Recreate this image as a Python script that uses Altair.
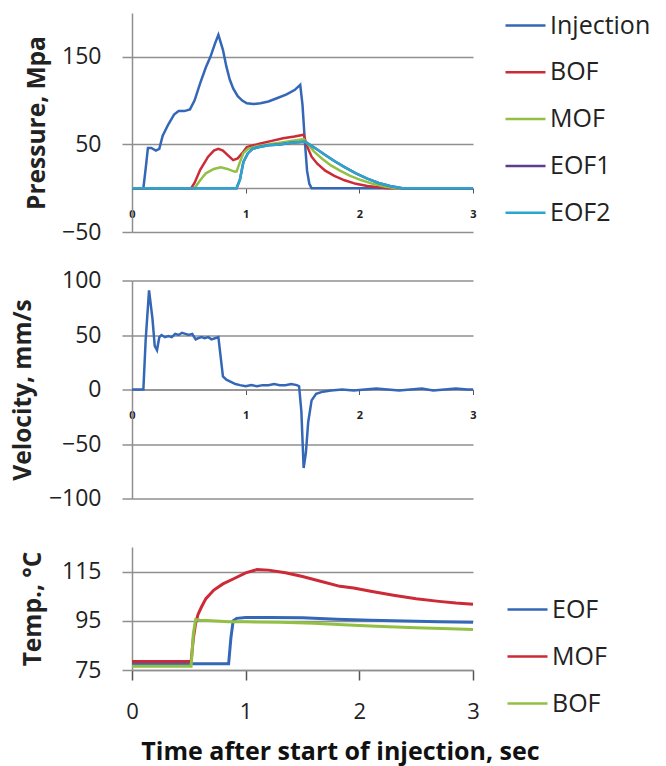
import altair as alt
import pandas as pd

# ---------------- data ----------------
series_p = ["Injection", "BOF", "MOF", "EOF1", "EOF2"]
colors_p = ["#3567B7", "#CC2A36", "#92C045", "#5E3C8F", "#2BA5CF"]

inj_t = [0, 0.10, 0.12, 0.14, 0.17, 0.21, 0.24, 0.27, 0.32, 0.37, 0.41, 0.46, 0.51, 0.55, 0.60, 0.65,
         0.69, 0.73, 0.76, 0.80, 0.83, 0.86, 0.89, 0.93, 0.97, 1.01, 1.07, 1.13, 1.20, 1.28, 1.36, 1.43,
         1.48, 1.50, 1.52, 1.54, 1.56, 1.58, 2.0, 2.5, 3.0]
inj_p = [0, 0, 22, 46, 46, 43, 45, 60, 73, 84, 88, 88, 90, 100, 120, 138,
         150, 165, 175, 158, 139, 124, 114, 105, 100, 97, 96, 97, 99, 103, 107, 112,
         118, 95, 55, 20, 5, 0, 0, 0, 0]

bof_t = [0, 0.52, 0.55, 0.60, 0.67, 0.72, 0.76, 0.80, 0.84, 0.89, 0.93, 0.97, 1.01, 1.07, 1.13, 1.23,
         1.33, 1.43, 1.51, 1.54, 1.58, 1.63, 1.70, 1.78, 1.87, 1.97, 2.07, 2.17, 2.25, 3.0]
bof_p = [0, 0, 6, 21, 36, 43, 45, 43, 38, 32, 34, 40, 47, 49, 51, 54,
         57, 59, 61, 48, 36, 28, 20, 14, 9, 5, 2.5, 1, 0, 0]

mof_t = [0, 0.55, 0.60, 0.65, 0.72, 0.78, 0.84, 0.90, 0.92, 0.95, 0.98, 1.02, 1.10, 1.20, 1.30, 1.40,
         1.51, 1.55, 1.60, 1.67, 1.75, 1.83, 1.92, 2.02, 2.12, 2.22, 2.32, 3.0]
mof_p = [0, 0, 9, 17, 22, 24, 22, 19, 19, 30, 40, 45, 48, 50, 52, 54,
         56, 50, 42, 34, 26, 20, 14, 9, 5, 2, 0, 0]

eof1_t = [0, 0.92, 0.95, 0.98, 1.02, 1.06, 1.12, 1.20, 1.30, 1.40, 1.52, 1.56, 1.62, 1.70, 1.78, 1.87,
          1.97, 2.07, 2.17, 2.27, 2.38, 3.0]
eof1_p = [0, 0, 10, 30, 40, 45, 47, 49, 50, 52, 53, 50, 45, 38, 31, 24,
          17, 11, 6, 2.5, 0, 0]

eof2_t = [0, 0.92, 0.95, 0.98, 1.02, 1.06, 1.12, 1.20, 1.30, 1.40, 1.52, 1.56, 1.62, 1.70, 1.78, 1.87,
          1.97, 2.07, 2.17, 2.27, 2.38, 3.0]
eof2_p = [0, 0, 10, 30, 40, 45, 47, 49, 50, 52, 53, 50, 45, 38, 31, 24,
          17, 11, 6, 2.5, 0, 0]

vel_t = [0, 0.10, 0.12, 0.15, 0.18, 0.20, 0.22, 0.24, 0.26, 0.29, 0.32, 0.35, 0.38, 0.41, 0.44, 0.47,
         0.50, 0.53, 0.56, 0.58, 0.61, 0.64, 0.67, 0.70, 0.73, 0.76, 0.78, 0.80, 0.83, 0.87, 0.91, 0.95,
         1.00, 1.05, 1.10, 1.15, 1.20, 1.25, 1.30, 1.35, 1.40, 1.45, 1.47, 1.49, 1.51, 1.53, 1.55, 1.58,
         1.62, 1.68, 1.75, 1.85, 1.95, 2.05, 2.15, 2.25, 2.35, 2.45, 2.55, 2.65, 2.75, 2.85, 2.95, 3.0]
vel_v = [0, 0, 45, 91, 65, 40, 36, 48, 50, 48, 49, 48, 51, 50, 52, 51,
         50, 51, 46, 47, 48, 47, 48, 46, 47, 48, 30, 12, 9, 7, 5, 4,
         3, 4, 3, 4, 4, 5, 4, 4, 5, 4, 3, -20, -72, -58, -30, -10,
         -4, -2, -1, 0, -1, 0, 1, 0, -1, 0, 1, -1, 0, 1, 0, 0]

series_T = ["EOF", "MOF", "BOF"]
colors_T = ["#3567B7", "#CC2A36", "#92C045"]

teof_t = [0, 0.85, 0.87, 0.89, 0.92, 1.0, 1.2, 1.5, 1.8, 2.1, 2.4, 2.7, 3.0]
teof_v = [77.5, 77.5, 88, 95, 96, 96.3, 96.3, 96.2, 95.6, 95.2, 94.9, 94.6, 94.4]

tmof_t = [0, 0.52, 0.54, 0.56, 0.58, 0.61, 0.65, 0.72, 0.80, 0.89, 1.00, 1.10, 1.20, 1.35, 1.50, 1.65,
          1.83, 1.95, 2.10, 2.30, 2.50, 2.70, 2.85, 3.0]
tmof_v = [78.5, 78.5, 88, 94, 97.5, 100.5, 104, 107.5, 110, 112, 114.5, 115.8, 115.6, 114.5, 113, 111.2,
          109, 108.3, 107, 105.4, 104, 102.9, 102.2, 101.7]

tbof_t = [0, 0.52, 0.54, 0.56, 0.60, 0.70, 0.85, 1.0, 1.3, 1.6, 1.9, 2.2, 2.5, 2.8, 3.0]
tbof_v = [76.5, 76.5, 90, 95.5, 95.2, 95, 94.6, 94.6, 94.4, 94, 93.3, 92.7, 92.2, 91.8, 91.5]

# ---------------- tables ----------------
def long(name, ts, vs, order):
    return pd.DataFrame({"t": ts, "v": vs, "series": name, "ord": order})

df_p = pd.concat([
    long("Injection", inj_t, inj_p, 0),
    long("BOF", bof_t, bof_p, 1),
    long("MOF", mof_t, mof_p, 2),
    long("EOF1", eof1_t, eof1_p, 3),
    long("EOF2", eof2_t, eof2_p, 4),
], ignore_index=True)
df_v = pd.DataFrame({"t": vel_t, "v": vel_v})
df_T = pd.concat([
    long("EOF", teof_t, teof_v, 0),
    long("MOF", tmof_t, tmof_v, 1),
    long("BOF", tbof_t, tbof_v, 2),
], ignore_index=True)

FONT = "Open Sans"
GRID = "#8f8f8f"
TXT = "#222222"
W = 341

def yaxis(vals, title, title_x):
    return alt.Axis(values=vals, grid=True, gridColor=GRID, gridWidth=1.5,
                    domainColor=GRID, domainWidth=1.5, tickColor=GRID, tickWidth=1.5,
                    tickSize=10, labelPadding=21, labelFontSize=23, labelColor=TXT,
                    labelFont=FONT, title=title, titleFont=FONT, titleFontSize=24.5,
                    titleFontWeight="bold", titleColor=TXT, titleX=title_x)

def xaxis_small(offset):
    return alt.Axis(values=[0, 1, 2, 3], grid=False, offset=offset, domainColor=GRID,
                    domainWidth=1.5, tickColor="#555555", tickSize=5, tickWidth=1,
                    labelFontSize=11, labelFontWeight="bold", labelFont=FONT,
                    labelColor=TXT, labelPadding=15, labelFlush=False, title=None)

legend_common = dict(title=None, orient="none", symbolType="stroke", symbolSize=1600,
                     symbolStrokeWidth=2.5, labelFontSize=25, labelFont=FONT,
                     labelColor=TXT, labelOffset=3, padding=0)

top = alt.Chart(df_p).mark_line(strokeWidth=2.5).encode(
    x=alt.X("t:Q", scale=alt.Scale(domain=[0, 3], nice=False), axis=xaxis_small(-44)),
    y=alt.Y("v:Q", scale=alt.Scale(domain=[-50, 200], nice=False),
            axis=yaxis([-50, 50, 150], "Pressure, Mpa", -83)),
    color=alt.Color("series:N", scale=alt.Scale(domain=series_p, range=colors_p),
                    legend=alt.Legend(legendX=372, legendY=-9, rowPadding=11.8, **legend_common)),
    order=alt.Order("ord:Q"),
).properties(width=W, height=219)

mid = alt.Chart(df_v).mark_line(strokeWidth=2.5, color="#3567B7").encode(
    x=alt.X("t:Q", scale=alt.Scale(domain=[0, 3], nice=False), axis=xaxis_small(-109)),
    y=alt.Y("v:Q", scale=alt.Scale(domain=[-100, 100], nice=False),
            axis=yaxis([-100, -50, 0, 50, 100], "Velocity, mm/s", -97)),
).properties(width=W, height=218)

bot = alt.Chart(df_T).mark_line(strokeWidth=3).encode(
    x=alt.X("t:Q", scale=alt.Scale(domain=[0, 3], nice=False),
            axis=alt.Axis(values=[0, 1, 2, 3], grid=False, domainColor=GRID, domainWidth=1.5,
                          tickColor="#555555", tickSize=10, tickWidth=1.5,
                          labelFontSize=22, labelFont=FONT, labelColor=TXT,
                          labelPadding=21, labelFlush=False,
                          title="Time after start of injection, sec", titleFont=FONT,
                          titleFontSize=25, titleFontWeight="bold", titleColor="#111111",
                          titleX=208, titleY=81, titleBaseline="middle", titleAlign="center")),
    y=alt.Y("v:Q", scale=alt.Scale(domain=[75, 125], nice=False),
            axis=yaxis([75, 95, 115], "Temp., °C", -87)),
    color=alt.Color("series:N", scale=alt.Scale(domain=series_T, range=colors_T),
                    legend=alt.Legend(legendX=374, legendY=41, rowPadding=12, **legend_common)),
    order=alt.Order("ord:Q"),
).properties(width=W, height=123)

chart = alt.vconcat(top, mid, bot, spacing=48.5, bounds="flush").resolve_scale(
    color="independent"
).properties(
    padding={"left": 9, "top": 4, "right": 5, "bottom": 5},
    background="white",
).configure_view(strokeWidth=0)

chart.save("out.html", embed_options={"renderer": "svg", "actions": False})
